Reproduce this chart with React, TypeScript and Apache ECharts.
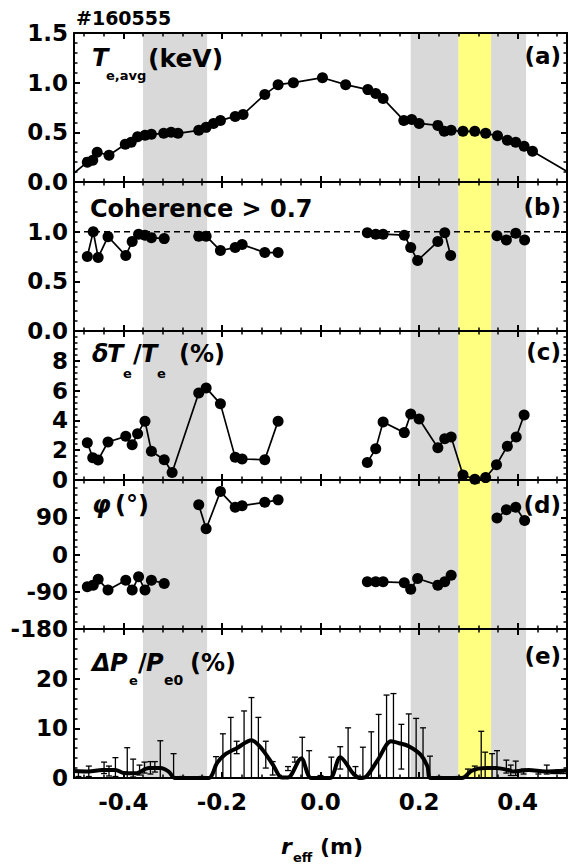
import React, { useEffect, useRef } from "react";
import * as echarts from "echarts";

const shotLabel = "#160555";
const xMajorTicks = [-0.4, -0.2, 0.0, 0.2, 0.4];
const xMinorTicks = [-0.48, -0.44, -0.36, -0.32, -0.28, -0.24, -0.16, -0.12, -0.08, -0.04, 0.04, 0.08, 0.12, 0.16, 0.24, 0.28, 0.32, 0.36, 0.44, 0.48];

const greyBands = [[-0.36, -0.23], [0.183, 0.28], [0.346, 0.417]];
const yellowBands = [[0.28, 0.346]];

// (a) Te,avg
const rA = [-0.515, -0.473, -0.462, -0.453, -0.429, -0.396, -0.384, -0.371, -0.356, -0.343, -0.318, -0.303, -0.289, -0.247, -0.232, -0.217, -0.203, -0.173, -0.157, -0.113, -0.086, -0.055, 0.004, 0.051, 0.096, 0.112, 0.127, 0.169, 0.185, 0.2, 0.238, 0.251, 0.265, 0.289, 0.313, 0.335, 0.359, 0.379, 0.396, 0.413, 0.43, 0.53];
const teAvg = [0.03, 0.2, 0.22, 0.3, 0.27, 0.38, 0.4, 0.455, 0.47, 0.48, 0.49, 0.5, 0.49, 0.52, 0.55, 0.59, 0.62, 0.66, 0.68, 0.88, 0.98, 1.0, 1.05, 0.98, 0.93, 0.89, 0.84, 0.62, 0.63, 0.59, 0.57, 0.51, 0.52, 0.51, 0.51, 0.49, 0.465, 0.42, 0.4, 0.36, 0.31, 0.02];

// (b) coherence (null = break)
const rB = [-0.473, -0.461, -0.451, -0.431, -0.395, -0.382, -0.369, -0.356, -0.343, -0.317, -0.28, -0.247, -0.232, -0.203, -0.173, -0.159, -0.113, -0.086, 0.0, 0.095, 0.112, 0.127, 0.17, 0.183, 0.197, 0.238, 0.252, 0.264, 0.31, 0.358, 0.377, 0.396, 0.414];
const coherence = [0.75, 1.0, 0.74, 0.95, 0.76, 0.9, 0.975, 0.965, 0.94, 0.93, null, 0.955, 0.955, 0.81, 0.84, 0.87, 0.79, 0.79, null, 0.99, 0.975, 0.975, 0.965, 0.84, 0.71, 0.9, 0.99, 0.76, null, 0.96, 0.915, 0.985, 0.915];
const coherenceRef = 1.0;

// (c) dTe/Te
const rC = [-0.473, -0.462, -0.451, -0.431, -0.395, -0.382, -0.371, -0.356, -0.343, -0.317, -0.301, -0.247, -0.232, -0.203, -0.173, -0.159, -0.113, -0.086, 0.0, 0.095, 0.112, 0.127, 0.17, 0.183, 0.2, 0.238, 0.252, 0.265, 0.289, 0.313, 0.335, 0.357, 0.379, 0.397, 0.413];
const dTe = [2.5, 1.5, 1.35, 2.55, 2.93, 2.36, 3.11, 3.95, 1.93, 1.36, 0.5, 5.84, 6.18, 5.11, 1.52, 1.41, 1.36, 3.95, null, 1.18, 2.09, 3.9, 3.18, 4.43, 4.09, 2.16, 2.77, 2.89, 0.34, 0.05, 0.16, 1.02, 2.27, 2.89, 4.36];

// (d) phase
const rD = [-0.473, -0.461, -0.451, -0.431, -0.395, -0.382, -0.369, -0.356, -0.343, -0.317, -0.28, -0.247, -0.232, -0.203, -0.173, -0.159, -0.113, -0.086, 0.0, 0.095, 0.112, 0.127, 0.17, 0.183, 0.197, 0.238, 0.252, 0.265, 0.31, 0.358, 0.377, 0.396, 0.414];
const phase = [-78, -74, -60, -86, -62, -86, -54, -86, -62, -70, null, 120, 62, 152, 114, 118, 126, 132, null, -66, -66, -66, -68, -84, -58, -74, -66, -50, null, 88, 108, 114, 82];

// (e) dPe/Pe0 curve and error bars
const rE = [-0.5, -0.47, -0.443, -0.416, -0.399, -0.375, -0.348, -0.325, -0.308, -0.295, -0.227, -0.21, -0.194, -0.17, -0.14, -0.12, -0.096, -0.079, -0.066, -0.039, -0.019, 0.019, 0.04, 0.066, 0.079, 0.093, 0.116, 0.143, 0.16, 0.179, 0.203, 0.217, 0.223, 0.287, 0.307, 0.334, 0.355, 0.381, 0.391, 0.422, 0.456, 0.5];
const dPe = [1.4, 1.3, 1.6, 1.6, 1.0, 0.95, 2.0, 2.0, 1.3, 0, 0, 3.0, 4.7, 6.0, 7.6, 6.0, 2.6, 0.1, 0.1, 4.0, 0, 0, 4.2, 0.95, 0, 0.3, 3.6, 7.4, 7.0, 6.4, 4.7, 2.3, 0, 0, 1.5, 2.0, 2.0, 1.6, 1.3, 1.6, 1.3, 1.5];
const errR = [-0.491, -0.47, -0.439, -0.429, -0.416, -0.392, -0.38, -0.367, -0.357, -0.345, -0.336, -0.325, -0.298, -0.281, -0.241, -0.212, -0.198, -0.182, -0.17, -0.155, -0.14, -0.126, -0.111, -0.097, -0.079, -0.066, -0.052, -0.037, -0.023, 0.0, 0.022, 0.04, 0.056, 0.071, 0.086, 0.103, 0.118, 0.134, 0.148, 0.164, 0.179, 0.194, 0.208, 0.222, 0.24, 0.28, 0.299, 0.313, 0.326, 0.334, 0.348, 0.358, 0.377, 0.386, 0.396, 0.412, 0.442, 0.459, 0.472, 0.482, 0.492];
const errHigh = [1.3, 2.4, 3.2, 2.4, 4.1, 6.1, 3.8, 2.6, 3.2, 3.3, 3.3, 7.5, 4.9, 0.3, 0.3, 4.3, 8.9, 12.2, 7.4, 13.5, 16.2, 12.2, 7.4, 3.3, 0.3, 2.3, 4.2, 8.2, 5.5, 0.5, 4.2, 6.3, 10.1, 2.3, 6.2, 9.3, 12.8, 16.7, 17.0, 10.8, 12.9, 12.0, 10.1, 4.4, 0.3, 0.3, 1.8, 2.4, 9.4, 5.2, 4.9, 5.5, 3.6, 2.6, 3.4, 1.8, 1.5, 2.6, 1.5, 1.6, 1.6];
const errLow = [0.3, 0.3, 0.9, 0.4, 0.3, -2, 0.2, 0.6, 1.0, 0.8, 1.2, -3, -3, -0.3, -0.3, -1, -1, -2, 4.9, -1, -1, -1, 2.0, 0.6, -0.3, 1.5, 3.2, -1, -1, -0.5, -1, 1.8, -1, 0.5, -1, -1, -1, -1, -1, 1.8, -1, -1, -1, -1, -0.3, -0.3, -0.5, -0.5, -1, -1, -1, -1, 1.0, 0.5, 0.5, 0.8, 0.8, 0.8, 0.9, 0.9, 0.9];

const panelYMin = [0, 0, 0, -180, 0];
const panelYMax = [1.5, 1.5, 10, 180, 30];
const panelYStep = [0.5, 0.5, 2, 90, 10];
const panelYDecimals = [1, 1, 0, 0, 0];
const panelTags = ["(a)", "(b)", "(c)", "(d)", "(e)"];

const FONT = '"DejaVu Sans", sans-serif';
const GRID_LEFT = 74;
const GRID_WIDTH = 493;
const GRID_TOP = 33;
const GRID_H = 149;

function pairs(xs: number[], ys: (number | null)[]) {
  return xs.map((x, i) => [x, ys[i] === null ? "-" : ys[i]]);
}

function txt(text: string, x: number, y: number, size: number, opts: any = {}) {
  const style: any = opts.italic ? "italic" : "normal";
  return {
    type: "text",
    z: 10,
    x,
    y,
    style: {
      text,
      fill: "#000",
      font: `${style} bold ${size}px ${FONT}`,
      align: opts.align || "left",
      textAlign: opts.align || "left",
      verticalAlign: "middle",
      textVerticalAlign: "middle",
    },
  };
}

export default function App() {
  const ref = useRef<HTMLDivElement>(null);
  useEffect(() => {
    document.body.style.margin = "0";
    if (!ref.current) return;
    const chart = echarts.init(ref.current, null, { renderer: "svg" });
    const axisLine = { show: true, onZero: false, lineStyle: { color: "#000", width: 2 } };
    const grids: any[] = [];
    const xAxes: any[] = [];
    const yAxes: any[] = [];
    const series: any[] = [];
    for (let g = 0; g < 5; g++) {
      grids.push({ left: GRID_LEFT, width: GRID_WIDTH, top: GRID_TOP + g * GRID_H, height: GRID_H, show: false });
      const base = { type: "value", gridIndex: g, min: -0.5, max: 0.5, z: 1, splitLine: { show: false } };
      xAxes.push({
        ...base,
        position: "bottom",
        axisLine,
        axisTick: { show: true, inside: true, length: 6, lineStyle: { color: "#000", width: 2 }, customValues: xMajorTicks },
        axisLabel: {
          show: g === 4,
          customValues: xMajorTicks,
          formatter: (v: number) => v.toFixed(1),
          margin: 12,
          color: "#000",
          fontFamily: FONT,
          fontWeight: "bold",
          fontSize: 23,
        },
      });
      xAxes.push({
        ...base,
        position: "top",
        axisLine,
        axisTick: { show: true, inside: true, length: 6, lineStyle: { color: "#000", width: 2 }, customValues: xMajorTicks },
        axisLabel: { show: false },
      });
      xAxes.push({
        ...base,
        position: "bottom",
        axisLine: { show: false, onZero: false },
        axisTick: { show: true, inside: true, length: 3.5, lineStyle: { color: "#000", width: 1.5 }, customValues: xMinorTicks },
        axisLabel: { show: false },
      });
      xAxes.push({
        ...base,
        position: "top",
        axisLine: { show: false, onZero: false },
        axisTick: { show: true, inside: true, length: 3.5, lineStyle: { color: "#000", width: 1.5 }, customValues: xMinorTicks },
        axisLabel: { show: false },
      });
      const ybase = {
        type: "value",
        gridIndex: g,
        min: panelYMin[g],
        max: panelYMax[g],
        interval: panelYStep[g],
        z: 1,
        axisLine,
        axisTick: { show: true, inside: true, length: 6, lineStyle: { color: "#000", width: 2 } },
        minorTick: { show: true, splitNumber: 5, length: 3.5, lineStyle: { color: "#000", width: 1.5 } },
        splitLine: { show: false },
        minorSplitLine: { show: false },
      };
      yAxes.push({
        ...ybase,
        position: "left",
        axisLabel: {
          show: true,
          showMaxLabel: g === 0,
          formatter: (v: number) => v.toFixed(panelYDecimals[g]),
          margin: 6,
          color: "#000",
          fontFamily: FONT,
          fontWeight: "bold",
          fontSize: 23,
        },
      });
      yAxes.push({ ...ybase, position: "right", axisLabel: { show: false } });

      // shaded bands
      series.push({
        type: "custom",
        xAxisIndex: 4 * g,
        yAxisIndex: 2 * g,
        z: 0,
        silent: true,
        data: [...greyBands.map((b) => [b[0], b[1], 0]), ...yellowBands.map((b) => [b[0], b[1], 1])],
        renderItem: (params: any, api: any) => {
          const x0 = api.coord([api.value(0), panelYMin[g]])[0];
          const x1 = api.coord([api.value(1), panelYMin[g]])[0];
          const cs = params.coordSys;
          return {
            type: "rect",
            shape: { x: x0, y: cs.y, width: x1 - x0, height: cs.height },
            style: { fill: api.value(2) === 1 ? "#ffff80" : "#d9d9d9" },
          };
        },
      });
    }

    const pointSeries = (g: number, data: any[]) => ({
      type: "line",
      xAxisIndex: 4 * g,
      yAxisIndex: 2 * g,
      z: 3,
      data,
      symbol: "circle",
      symbolSize: 11,
      itemStyle: { color: "#000" },
      lineStyle: { color: "#000", width: 1.7 },
      clip: true,
      connectNulls: false,
    });
    series.push(pointSeries(0, pairs(rA, teAvg)));
    series.push({
      type: "line",
      xAxisIndex: 4,
      yAxisIndex: 2,
      z: 2,
      data: [[-0.5, coherenceRef], [0.5, coherenceRef]],
      symbol: "none",
      lineStyle: { color: "#000", width: 1.5, type: [6, 4] },
    });
    series.push(pointSeries(1, pairs(rB, coherence)));
    series.push(pointSeries(2, pairs(rC, dTe)));
    series.push(pointSeries(3, pairs(rD, phase)));
    series.push({
      type: "custom",
      xAxisIndex: 16,
      yAxisIndex: 8,
      z: 3,
      clip: true,
      encode: { x: 0, y: 2 },
      data: errR.map((x, i) => [x, errLow[i], errHigh[i]]),
      renderItem: (params: any, api: any) => {
        const x = api.value(0);
        const lo = api.value(1);
        const hi = api.value(2);
        const top = api.coord([x, hi]);
        const bot = api.coord([x, Math.max(lo, 0)]);
        const st = { stroke: "#000", lineWidth: 1.3 };
        const children: any[] = [
          { type: "line", shape: { x1: top[0], y1: top[1], x2: bot[0], y2: bot[1] }, style: st },
          { type: "line", shape: { x1: top[0] - 3, y1: top[1], x2: top[0] + 3, y2: top[1] }, style: st },
        ];
        if (lo > 0) {
          children.push({ type: "line", shape: { x1: bot[0] - 3, y1: bot[1], x2: bot[0] + 3, y2: bot[1] }, style: st });
        }
        return { type: "group", children };
      },
    });
    series.push({
      type: "line",
      xAxisIndex: 16,
      yAxisIndex: 8,
      z: 4,
      data: pairs(rE, dPe),
      symbol: "none",
      smooth: 0.3,
      lineStyle: { color: "#000", width: 4 },
      clip: true,
    });

    const graphics: any[] = [
      txt(shotLabel, 76, 18, 19),
      // (a)
      txt("T", 92, 58, 24, { italic: true }),
      txt("e,avg", 106, 75, 13),
      txt("(keV)", 148, 58, 25),
      // (b)
      txt("Coherence > 0.7", 90, 209, 24),
      // (c)
      txt("δ", 92, 354, 24, { italic: true }),
      txt("T", 107, 354, 24, { italic: true }),
      txt("e", 123, 373, 13),
      txt("/", 133, 354, 24),
      txt("T", 141, 354, 24, { italic: true }),
      txt("e", 157, 373, 13),
      txt("(%)", 179, 354, 24),
      // (d)
      txt("φ", 92, 505, 24, { italic: true }),
      txt("(°)", 115, 505, 24),
      // (e)
      txt("Δ", 92, 663, 24, { italic: true }),
      txt("P", 110, 663, 24, { italic: true }),
      txt("e", 129, 680, 13),
      txt("/", 138, 663, 24),
      txt("P", 146, 663, 24, { italic: true }),
      txt("e0", 164, 680, 14),
      txt("(%)", 190, 663, 24),
      // x title
      txt("r", 281, 846, 22, { italic: true }),
      txt("eff", 293, 857, 13),
      txt("(m)", 320, 846, 22),
    ];
    const tagY = [56, 207, 352, 505, 656];
    panelTags.forEach((t, i) => graphics.push(txt(t, 561, tagY[i], 23, { align: "right" })));

    chart.setOption({
      animation: false,
      backgroundColor: "#fff",
      grid: grids,
      xAxis: xAxes,
      yAxis: yAxes,
      series,
      graphic: graphics,
    });
    return () => chart.dispose();
  }, []);
  return <div ref={ref} style={{ position: "fixed", left: 0, top: 0, width: 568, height: 868 }} />;
}
